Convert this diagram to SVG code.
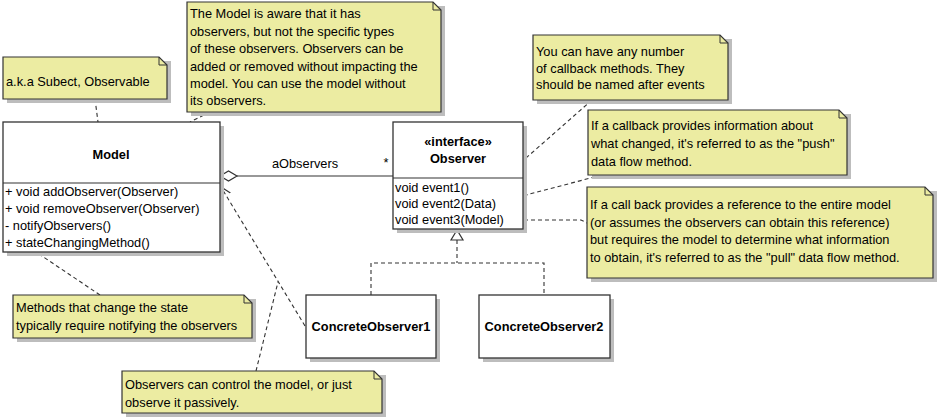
<svg xmlns="http://www.w3.org/2000/svg" width="940" height="420" viewBox="0 0 940 420">
<style>
text{font-family:"Liberation Sans",Arial,sans-serif;font-size:12.8px;fill:#000}
.b{font-weight:bold}
.c{text-anchor:middle}
.box{fill:#fff;stroke:#333;stroke-width:1.3}
.sh{fill:#bdbdbd}
.note{fill:#ececa2;stroke:#333;stroke-width:1.2}
.fold{fill:none;stroke:#333;stroke-width:1}
.ln{fill:none;stroke:#333;stroke-width:1.2}
.dl{fill:none;stroke:#333;stroke-width:1.1;stroke-dasharray:4 3}
</style>
<defs>
<marker id="open" markerWidth="12" markerHeight="12" refX="10" refY="5" orient="auto" markerUnits="userSpaceOnUse">
<path d="M0,0 L10,5 L0,10" fill="none" stroke="#333" stroke-width="1.2"/>
</marker>
</defs>

<g id="connectors">
<line class="ln" x1="237" y1="176" x2="393" y2="176"/>
<polygon points="220,176 228.5,171 237,176 228.5,181" fill="#fff" stroke="#333" stroke-width="1.2"/>
<text x="305" y="168" class="c">aObservers</text>
<text x="386" y="167" class="c">*</text>
<line class="dl" x1="305" y1="326" x2="221" y2="187" marker-end="url(#open)"/>
<path class="dl" d="M457,240 V263"/>
<path class="dl" d="M371,295 V263 H544 V295"/>
<polygon points="457,230 451,240 463,240" fill="#fff" stroke="#333" stroke-width="1.2"/>
<line class="dl" x1="95" y1="99" x2="98" y2="122"/>
<line class="dl" x1="210" y1="112" x2="190" y2="122"/>
<line class="dl" x1="100" y1="295" x2="36" y2="252"/>
<line class="dl" x1="256" y1="371" x2="278" y2="282"/>
<line class="dl" x1="592" y1="100" x2="493" y2="187"/>
<line class="dl" x1="602" y1="175" x2="507" y2="200"/>
<path class="dl" d="M517,220 H581 L587,223"/>
</g>

<g id="model">
<rect class="sh" x="7" y="126" width="217" height="130"/>
<rect class="box" x="3" y="122" width="217" height="130"/>
<line class="ln" x1="3" y1="183" x2="220" y2="183"/>
<text x="111" y="159" class="b c">Model</text>
<text x="5" y="196">+ void addObserver(Observer)</text>
<text x="5" y="213">+ void removeObserver(Observer)</text>
<text x="5" y="230">- notifyObservers()</text>
<text x="5" y="247">+ stateChangingMethod()</text>
</g>

<g id="observer">
<rect class="sh" x="397" y="126" width="130" height="107"/>
<rect class="box" x="393" y="122" width="130" height="107"/>
<line class="ln" x1="393" y1="178" x2="523" y2="178"/>
<text x="458" y="146" class="b c">«interface»</text>
<text x="458" y="163" class="b c">Observer</text>
<text x="395" y="192">void event1()</text>
<text x="395" y="208">void event2(Data)</text>
<text x="395" y="224">void event3(Model)</text>
</g>

<g id="concrete1">
<rect class="sh" x="310" y="299" width="130" height="63"/>
<rect class="box" x="306" y="295" width="130" height="63"/>
<text x="371" y="331" class="b c">ConcreteObserver1</text>
</g>

<g id="concrete2">
<rect class="sh" x="483" y="299" width="131" height="63"/>
<rect class="box" x="479" y="295" width="131" height="63"/>
<text x="544" y="331" class="b c">ConcreteObserver2</text>
</g>

<g id="note-aka">
<rect class="sh" x="7" y="61" width="164" height="42"/>
<path class="note" d="M3,57 H159 L167,65 V99 H3 Z"/>
<path class="fold" d="M159,57 V65 H167"/>
<text x="6" y="86">a.k.a Subect, Observable</text>
</g>

<g id="note-model">
<rect class="sh" x="191" y="6" width="254" height="110"/>
<path class="note" d="M187,2 H433 L441,10 V112 H187 Z"/>
<path class="fold" d="M433,2 V10 H441"/>
<text x="190" y="18">The Model is aware that it has</text>
<text x="190" y="36">observers, but not the specific types</text>
<text x="190" y="53">of these observers. Observers can be</text>
<text x="190" y="71">added or removed without impacting the</text>
<text x="190" y="88">model. You can use the model without</text>
<text x="190" y="105">its observers.</text>
</g>

<g id="note-callbacks">
<rect class="sh" x="537" y="39" width="195" height="65"/>
<path class="note" d="M533,35 H720 L728,43 V100 H533 Z"/>
<path class="fold" d="M720,35 V43 H728"/>
<text x="536" y="56">You can have any number</text>
<text x="536" y="73">of callback methods. They</text>
<text x="536" y="89">should be named after events</text>
</g>

<g id="note-push">
<rect class="sh" x="592" y="114" width="259" height="65"/>
<path class="note" d="M588,110 H839 L847,118 V175 H588 Z"/>
<path class="fold" d="M839,110 V118 H847"/>
<text x="591" y="130">If a callback provides information about</text>
<text x="591" y="148">what changed, it's referred to as the "push"</text>
<text x="591" y="166">data flow method.</text>
</g>

<g id="note-pull">
<rect class="sh" x="591" y="191" width="346" height="91"/>
<path class="note" d="M587,187 H925 L933,195 V278 H587 Z"/>
<path class="fold" d="M925,187 V195 H933"/>
<text x="590" y="209">If a call back provides a reference to the entire model</text>
<text x="590" y="227">(or assumes the observers can obtain this reference)</text>
<text x="590" y="244">but requires the model to determine what information</text>
<text x="590" y="262">to obtain, it's referred to as the "pull" data flow method.</text>
</g>

<g id="note-methods">
<rect class="sh" x="17" y="299" width="239" height="43"/>
<path class="note" d="M13,295 H244 L252,303 V338 H13 Z"/>
<path class="fold" d="M244,295 V303 H252"/>
<text x="16" y="312">Methods that change the state</text>
<text x="16" y="330">typically require notifying the observers</text>
</g>

<g id="note-control">
<rect class="sh" x="126" y="375" width="260" height="42"/>
<path class="note" d="M122,371 H374 L382,379 V413 H122 Z"/>
<path class="fold" d="M374,371 V379 H382"/>
<text x="125" y="389">Observers can control the model, or just</text>
<text x="125" y="407">observe it passively.</text>
</g>
</svg>
